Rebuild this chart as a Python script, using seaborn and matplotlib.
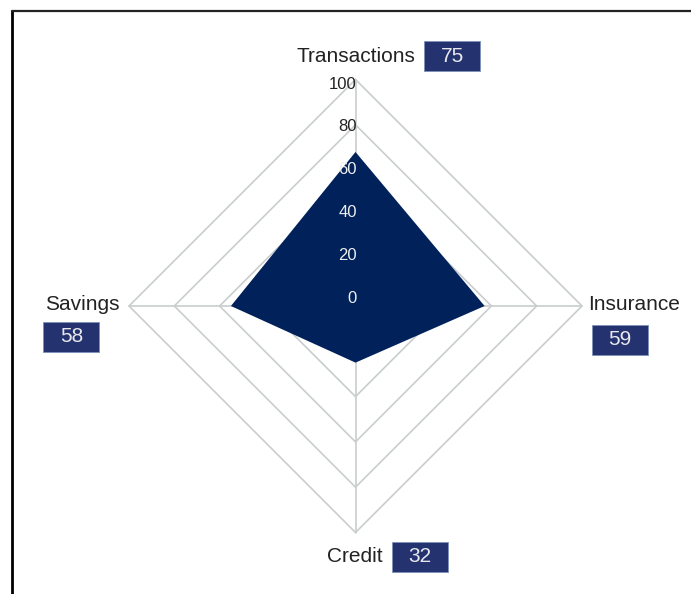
import numpy as np
import seaborn as sns
import matplotlib.pyplot as plt
from matplotlib.patches import Rectangle, Polygon
from matplotlib.lines import Line2D

# --- data ---
categories = ["Transactions", "Insurance", "Credit", "Savings"]
scores = [75, 59, 32, 58]            # numbers shown in the boxes
shape_values = [68, 57, 25, 55]      # how far the filled shape reaches on each spoke
ring_levels = [20, 40, 60, 80, 100]
tick_values = [0, 20, 40, 60, 80, 100]
tick_labels = ["0", "20", "40", "60", "80", "100"]

sns.set_theme(style="white")
plt.rcParams['font.family'] = ['Liberation Sans Narrow', 'Liberation Sans', 'DejaVu Sans']

NAVY = "#01215a"
BOX = "#24336f"
GRID = "#c9cdcd"
TEXT = "#222222"

W, H = 691, 594
cx, cy, scale = 355.5, 306.0, 2.265   # centre in px and px per unit

fig = plt.figure(figsize=(W / 100, H / 100), dpi=100)
ax = fig.add_axes([0, 0, 1, 1])
ax.set_xlim(-cx / scale, (W - cx) / scale)
ax.set_ylim(-(H - cy) / scale, cy / scale)
ax.axis("off")

# spoke directions: up, right, down, left
angles = np.deg2rad([90, 0, -90, 180])
dirs = np.column_stack([np.cos(angles), np.sin(angles)])

# rings
for lvl in ring_levels:
    pts = np.vstack([dirs * lvl, dirs[:1] * lvl])
    sns.lineplot(x=pts[:, 0], y=pts[:, 1], sort=False, estimator=None,
                 color=GRID, lw=1.2, ax=ax, zorder=1)
# spokes
for d in dirs:
    ax.plot([0, d[0] * 100], [0, d[1] * 100], color=GRID, lw=1.2, zorder=1)

# filled shape
shape = dirs * np.array(shape_values)[:, None]
ax.add_patch(Polygon(shape, closed=True, facecolor=NAVY, edgecolor="none", zorder=2))

# radial tick labels along the top spoke
for v, lab in zip(tick_values, tick_labels):
    col = TEXT if v > shape_values[0] else "#eeeeee"
    ax.text(0.5, 3.5 + 0.945 * v, lab, ha="right", va="center", fontsize=12,
            color=col, zorder=3)

# category labels with value boxes (positions in px)
label_pos = {
    "Transactions": dict(tx=415, ty=57, ha="right", bx=452, by=56),
    "Insurance": dict(tx=588, ty=305, ha="left", bx=619.5, by=339.5),
    "Credit": dict(tx=383, ty=557, ha="right", bx=419.5, by=557),
    "Savings": dict(tx=45, ty=305, ha="left", bx=71.5, by=337),
}
bw, bh = 56 / scale, 30 / scale
for name, val in zip(categories, scores):
    p = label_pos[name]
    ax.text((p["tx"] - cx) / scale, (cy - p["ty"]) / scale, name, ha=p["ha"],
            va="center", fontsize=15, color=TEXT, zorder=4)
    bx, by = (p["bx"] - cx) / scale, (cy - p["by"]) / scale
    ax.add_patch(Rectangle((bx - bw / 2, by - bh / 2), bw, bh, facecolor=BOX,
                           edgecolor="#8090b8", lw=0.6, zorder=4))
    ax.text(bx, by, str(val), ha="center", va="center", fontsize=15,
            color="#e8e8ee", zorder=5)

# partial frame (left and top edge)
fig.add_artist(Line2D([12 / W, 12 / W], [0, 1 - 11 / H], color="black", lw=2))
fig.add_artist(Line2D([12 / W, 1], [1 - 11 / H, 1 - 11 / H], color="#222222", lw=1.6))

fig.savefig("out.png", dpi=100)
